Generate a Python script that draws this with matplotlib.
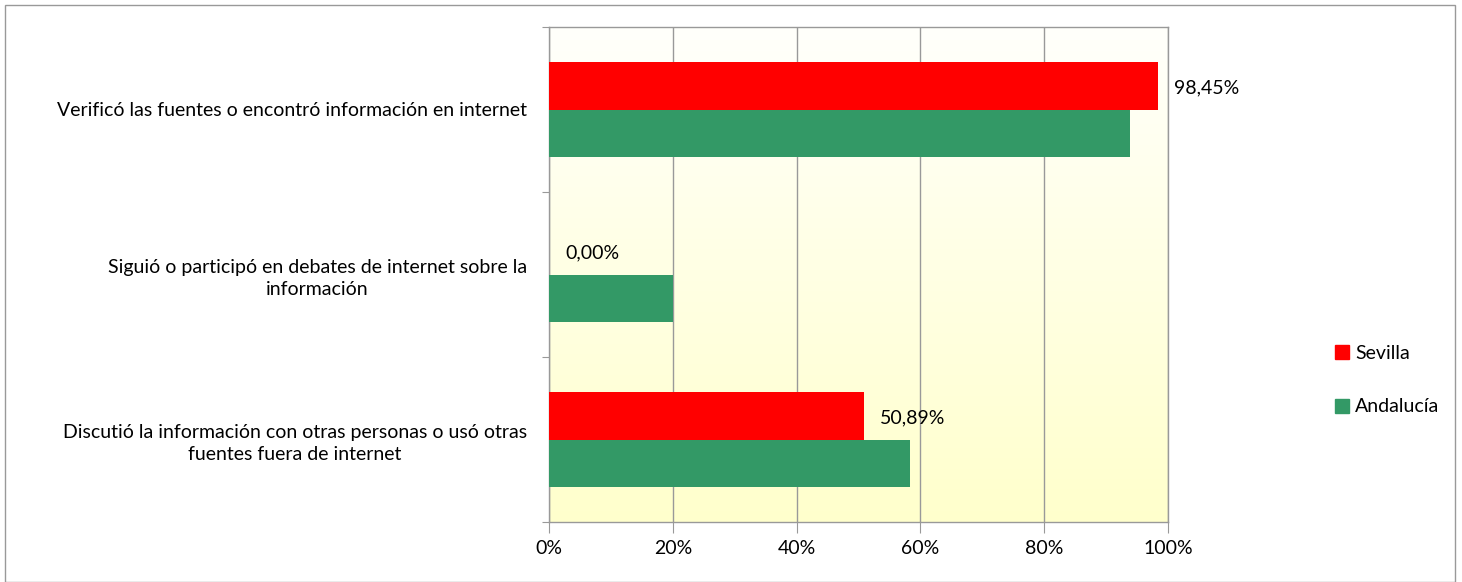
import numpy as np
import matplotlib
matplotlib.use("Agg")
import matplotlib.pyplot as plt
from matplotlib.patches import Rectangle
from matplotlib.lines import Line2D

categories = [
    "Verificó las fuentes o encontró información en internet",
    "Siguió o participó en debates de internet sobre la\ninformación",
    "Discutió la información con otras personas o usó otras\nfuentes fuera de internet",
]
sevilla = [98.45, 0.00, 50.89]
andalucia = [93.8, 20.0, 58.4]
sevilla_labels = ["98,45%", "0,00%", "50,89%"]
series_names = ["Sevilla", "Andalucía"]
xticks = [0, 20, 40, 60, 80, 100]
xtick_labels = ["0%", "20%", "40%", "60%", "80%", "100%"]

RED = "#FF0000"
GREEN = "#339966"
GRID = "#999999"
FS = 14

plt.rcParams['font.family'] = ['Lato', 'DejaVu Sans']

W, H = 1462, 582
fig = plt.figure(figsize=(W / 100, H / 100), dpi=100)

# outer border
fig.patches.append(Rectangle((5 / W, 0), (1455 - 5) / W, (H - 5) / H, transform=fig.transFigure,
                             fill=False, edgecolor="#999999", linewidth=1.0))

left, right, top, bottom = 549, 1168, 27, 522
ax = fig.add_axes([left / W, 1 - bottom / H, (right - left) / W, (bottom - top) / H])

# gradient background
grad = np.linspace(0, 1, 256).reshape(-1, 1)
c_top = np.array([1.0, 1.0, 0.985])
c_bot = np.array([1.0, 1.0, 0.80])
img = c_top[None, None, :] * (1 - grad[:, :, None]) + c_bot[None, None, :] * grad[:, :, None]
ax.imshow(img, extent=[0, 100, 3, 0], aspect='auto', zorder=0)

n = len(categories)
y = np.arange(n) + 0.5
h = 0.285
ax.barh(y - h / 2, sevilla, height=h, color=RED, zorder=3, label=series_names[0])
ax.barh(y + h / 2, andalucia, height=h, color=GREEN, zorder=3, label=series_names[1])

for yi, v, lab in zip(y, sevilla, sevilla_labels):
    ax.annotate(lab, xy=(v, yi - h / 2), xytext=(16, -2), textcoords='offset pixels',
                va='center', ha='left', fontsize=FS, color='#000000', zorder=4)

ax.set_xlim(0, 100)
ax.set_ylim(3, 0)
ax.set_xticks(xticks)
ax.set_xticklabels(xtick_labels, fontsize=FS)
ax.set_yticks([0, 1, 2, 3])
ax.set_yticklabels([])
ax.set_yticks(y, minor=True)
ax.set_yticklabels(categories, minor=True, fontsize=FS, multialignment='center', linespacing=1.35)
ax.tick_params(axis='y', which='minor', length=0, pad=16)
ax.tick_params(axis='y', which='major', length=5, color=GRID, direction='out')
ax.tick_params(axis='x', length=8, color=GRID, direction='out', pad=5)
ax.grid(axis='x', color=GRID, linewidth=1.0, zorder=1)
for s in ax.spines.values():
    s.set_color(GRID)
    s.set_linewidth(1.0)

handles = [Line2D([], [], marker='s', linestyle='none', markersize=10, color=RED),
           Line2D([], [], marker='s', linestyle='none', markersize=10, color=GREEN)]
fig.legend(handles, series_names, loc='center left', bbox_to_anchor=(1315 / W, 1 - 380 / H),
           frameon=False, fontsize=FS, handletextpad=0.15, labelspacing=1.9, handlelength=1.0)

fig.savefig("out.png", dpi=100)
